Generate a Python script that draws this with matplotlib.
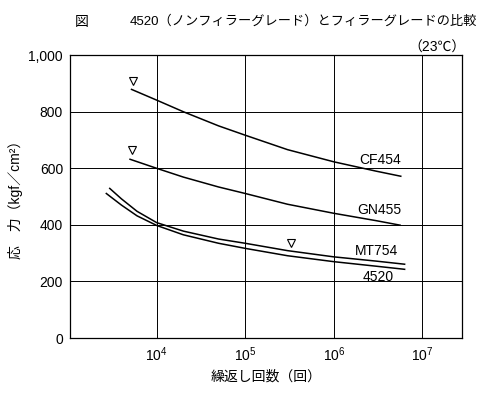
import matplotlib
matplotlib.use("Agg")
import matplotlib.pyplot as plt

plt.rcParams['font.family'] = ['Liberation Sans', 'Noto Sans CJK JP', 'DejaVu Sans']
plt.rcParams['mathtext.fontset'] = 'custom'
plt.rcParams['mathtext.rm'] = 'Liberation Sans'
plt.rcParams['mathtext.it'] = 'Liberation Sans'

# cycles to failure and stress (kgf/cm2)
cf454_n = [5.2e3, 1e4, 2e4, 5e4, 1e5, 3e5, 1e6, 3e6, 5.7e6]
cf454_s = [879, 841, 800, 750, 717, 666, 623, 590, 572]
gn455_n = [5.0e3, 1e4, 2e4, 5e4, 1e5, 3e5, 1e6, 3e6, 5.6e6]
gn455_s = [632, 600, 569, 534, 511, 473, 441, 415, 399]
mt754_n = [2.95e3, 4e3, 6e3, 1e4, 2e4, 5e4, 1e5, 3e5, 1e6, 3e6, 6.3e6]
mt754_s = [529, 492, 448, 408, 378, 350, 335, 309, 287, 272, 261]
n4520_n = [2.7e3, 4e3, 6e3, 1e4, 2e4, 5e4, 1e5, 3e5, 1e6, 3e6, 6.3e6]
n4520_s = [511, 470, 432, 398, 365, 335, 317, 291, 270, 254, 243]

series_labels = ["CF454", "GN455", "MT754", "4520"]
label_n = [3.3e6, 3.3e6, 3.0e6, 3.2e6]
label_s = [629, 452, 307, 215]

# run-out markers
mark_n = [5.4e3, 5.3e3, 3.3e5]
mark_s = [909, 664, 337]

fig = plt.figure(figsize=(5.0, 3.94), dpi=100)
ax = fig.add_axes([0.14, 0.142, 0.784, 0.718])

for n, s in [(cf454_n, cf454_s), (gn455_n, gn455_s), (mt754_n, mt754_s), (n4520_n, n4520_s)]:
    ax.plot(n, s, color="black", lw=1.1)

ax.plot(mark_n, mark_s, linestyle="none", marker="v", markersize=6,
        markerfacecolor="white", markeredgecolor="black", markeredgewidth=0.8)

for lab, n, s in zip(series_labels, label_n, label_s):
    ax.text(n, s, lab, ha="center", va="center", fontsize=10)

ax.set_xscale("log")
ax.set_xlim(1.05e3, 2.8e7)
ax.set_ylim(0, 1000)
ax.set_xticks([1e4, 1e5, 1e6, 1e7])
ax.set_xticklabels(["$10^4$", "$10^5$", "$10^6$", "$10^7$"], fontsize=10)
ax.xaxis.set_minor_locator(matplotlib.ticker.NullLocator())
ax.set_yticks([0, 200, 400, 600, 800, 1000])
ax.set_yticklabels(["0", "200", "400", "600", "800", "1,000"], fontsize=10)
ax.tick_params(length=0, pad=5)
ax.grid(True, color="black", lw=0.7)
for sp in ax.spines.values():
    sp.set_linewidth(0.9)

ax.set_xlabel("繰返し回数（回）", fontsize=10, labelpad=4)
ax.set_ylabel("応　力（kgf／cm²）", fontsize=10)
ax.yaxis.set_label_coords(-0.12, 0.5)

fig.text(0.15, 0.945, "図", fontsize=10, va="center")
fig.text(0.26, 0.945, "4520（ノンフィラーグレード）とフィラーグレードの比較", fontsize=9.5, va="center")
fig.text(0.932, 0.88, "（23℃）", fontsize=10, ha="right", va="center")

fig.savefig("out.png", dpi=100)
